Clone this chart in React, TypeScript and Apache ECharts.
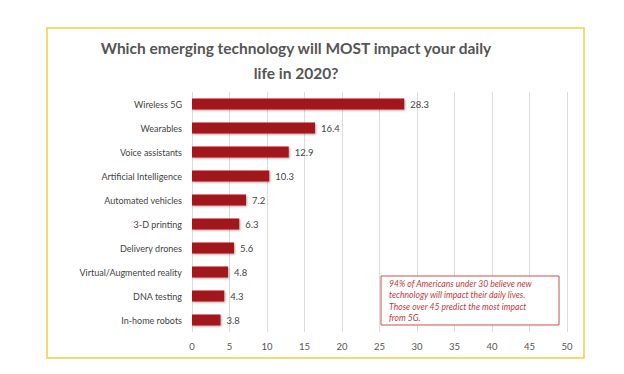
import React, { useEffect, useRef } from "react";
import * as echarts from "echarts";

const categories = [
  "Wireless 5G",
  "Wearables",
  "Voice assistants",
  "Artificial Intelligence",
  "Automated vehicles",
  "3-D printing",
  "Delivery drones",
  "Virtual/Augmented reality",
  "DNA testing",
  "In-home robots",
];
const values = [28.3, 16.4, 12.9, 10.3, 7.2, 6.3, 5.6, 4.8, 4.3, 3.8];
const titleLines = ["Which emerging technology will MOST impact your daily", "life in 2020?"];
const noteLines = [
  "94% of Americans under 30 believe new",
  "technology will impact their daily lives.",
  "Those over 45 predict the most impact",
  "from 5G.",
];

export default function App() {
  const ref = useRef<HTMLDivElement>(null);
  useEffect(() => {
    if (!ref.current) return;
    const chart = echarts.init(ref.current, undefined, { renderer: "svg" });
    chart.setOption({
      animation: false,
      backgroundColor: "#ffffff",
      grid: { left: 192, right: 57, top: 92, bottom: 42, containLabel: false },
      xAxis: {
        type: "value",
        min: 0,
        max: 50,
        interval: 5,
        axisLine: { show: false },
        axisTick: { show: false },
        splitLine: { show: true, lineStyle: { color: "#dcdcdc", width: 1 } },
        axisLabel: { color: "#555", fontSize: 9.5, fontFamily: "Lato", margin: 9 },
      },
      yAxis: {
        type: "category",
        data: categories,
        inverse: true,
        axisLine: { show: false },
        axisTick: { show: false },
        axisLabel: { color: "#444", fontSize: 9, fontFamily: "Lato", margin: 10 },
      },
      series: [
        {
          type: "bar",
          data: values,
          barWidth: 11,
          itemStyle: {
            color: "#a2181e",
            shadowColor: "rgba(0,0,0,0.35)",
            shadowBlur: 2,
            shadowOffsetX: 1,
            shadowOffsetY: 1,
          },
          label: {
            show: true,
            position: "right",
            distance: 6,
            color: "#444",
            fontSize: 9.5,
            fontFamily: "Lato",
          },
        },
      ],
      graphic: [
        {
          type: "rect",
          shape: { x: 47, y: 28, width: 537, height: 330 },
          style: { fill: "none", stroke: "#f3cd45", lineWidth: 1.5 },
          z: -1,
        },
        ...titleLines.map((t, i) => ({
          type: "text",
          x: 296,
          y: 48 + i * 25,
          style: {
            text: t,
            fill: "#555",
            font: "bold 15.5px Lato",
            textAlign: "center",
            textVerticalAlign: "middle",
          },
        })),
        {
          type: "rect",
          shape: { x: 381, y: 276, width: 178, height: 49 },
          style: { fill: "#ffffff", stroke: "#c9504f", lineWidth: 1 },
          z: 10,
        },
        ...noteLines.map((t, i) => ({
          type: "text",
          x: 389,
          y: 284 + i * 11.3,
          z: 11,
          style: {
            text: t,
            fill: "#c0393b",
            font: "italic 8.6px Lato",
            textAlign: "left",
            textVerticalAlign: "middle",
          },
        })),
      ],
    });
    return () => chart.dispose();
  }, []);
  return (
    <div
      ref={ref}
      style={{ position: "absolute", left: 0, top: 0, width: 624, height: 374, background: "#fff" }}
    />
  );
}
